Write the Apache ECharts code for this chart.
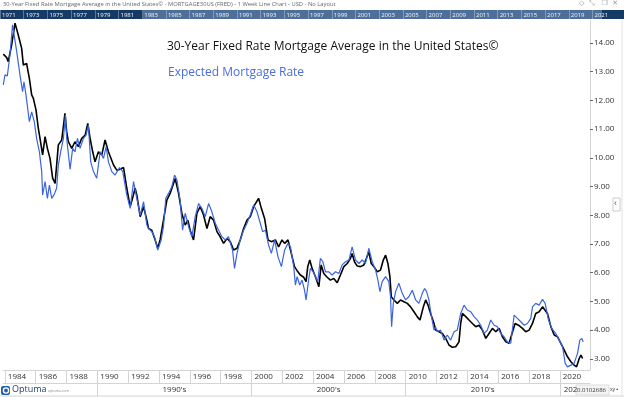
<!DOCTYPE html>
<html>
<head>
<meta charset="utf-8">
<title>30-Year Fixed Rate Mortgage Average in the United States</title>
<script src="https://cdn.jsdelivr.net/npm/echarts@6/dist/echarts.min.js"></script>
<style>
html, body { margin: 0; padding: 0; background: #fff; }
#chart { width: 624px; height: 397px; }
</style>
</head>
<body>
<div id="chart"></div>
<script>
// values, roughly one point per quarter
const blackYears = [1983.9, 1984.12, 1984.22, 1984.44, 1984.66, 1984.87, 1985.09, 1985.2, 1985.41, 1985.59, 1985.74, 1985.85,
    1986.02, 1986.17, 1986.28, 1986.45, 1986.61, 1986.76, 1986.93, 1987.1, 1987.26, 1987.36, 1987.47, 1987.69, 1987.9,
    1988.01, 1988.12, 1988.34, 1988.55, 1988.77, 1988.99, 1989.21, 1989.38, 1989.53, 1989.7, 1989.85,
    1990.07, 1990.29, 1990.5, 1990.72, 1991.05, 1991.26, 1991.48, 1991.7, 1991.91, 1992.13, 1992.24, 1992.45, 1992.56, 1992.78,
    1993.0, 1993.21, 1993.32, 1993.53, 1993.75, 1993.92, 1994.07, 1994.29, 1994.51, 1994.72, 1994.94, 1995.05, 1995.27, 1995.48,
    1995.7, 1995.87, 1996.02, 1996.24, 1996.46, 1996.67, 1996.89, 1997.11, 1997.32, 1997.54, 1997.76, 1997.97, 1998.19, 1998.41,
    1998.62, 1998.84, 1999.06, 1999.27, 1999.49, 1999.71, 1999.92, 2000.14, 2000.46, 2000.64, 2000.85, 2001.07, 2001.29, 2001.55,
    2001.76, 2001.98, 2002.15, 2002.37, 2002.53, 2002.79, 2002.96, 2003.17, 2003.39, 2003.54, 2003.65, 2003.78, 2003.93, 2004.15,
    2004.37, 2004.52, 2004.69, 2004.91, 2005.12, 2005.34, 2005.56, 2005.77, 2005.99, 2006.21, 2006.42, 2006.53, 2006.68, 2006.86,
    2007.07, 2007.29, 2007.46, 2007.61, 2007.77, 2007.94, 2008.16, 2008.37, 2008.55, 2008.7, 2008.85, 2008.98, 2009.07, 2009.24,
    2009.46, 2009.67, 2009.89, 2010.11, 2010.32, 2010.54, 2010.76, 2010.93, 2011.15, 2011.3, 2011.45, 2011.62, 2011.84, 2011.95,
    2012.17, 2012.38, 2012.6, 2012.81, 2013.03, 2013.25, 2013.46, 2013.57, 2013.68, 2013.9, 2014.11, 2014.33, 2014.55, 2014.76,
    2014.98, 2015.2, 2015.41, 2015.63, 2015.85, 2016.06, 2016.28, 2016.5, 2016.71, 2016.82, 2017.1, 2017.32, 2017.58, 2017.79,
    2018.01, 2018.23, 2018.44, 2018.66, 2018.88, 2018.99, 2019.2, 2019.42, 2019.64, 2019.85, 2020.07, 2020.29, 2020.5, 2020.72,
    2020.93, 2021.09, 2021.26, 2021.37, 2021.48];
const blackRates = [13.61, 13.49, 13.35, 13.93, 14.69, 14.28, 13.81, 13.23, 13.29, 12.77, 12.19, 12.07,
    11.67, 11.03, 10.68, 10.1, 10.74, 10.33, 9.98, 9.29, 9.11, 9.11, 10.45, 10.62, 11.55,
    10.91, 10.56, 10.33, 10.56, 10.39, 10.68, 10.79, 11.2, 10.68, 10.21, 9.86,
    10.21, 10.1, 10.62, 10.21, 9.75, 9.57, 9.6, 9.66, 8.94, 8.3, 8.5, 8.94, 8.71, 7.95,
    8.3, 7.83, 7.54, 7.48, 7.14, 6.85, 7.14, 7.83, 8.53, 8.76, 9.11, 9.28, 8.76, 8.07,
    7.66, 7.83, 7.48, 7.14, 8.07, 8.3, 8.01, 7.54, 7.95, 7.83, 7.43, 7.25, 7.02, 7.19,
    7.08, 6.79, 6.85, 7.14, 7.54, 7.83, 7.95, 8.3, 8.59, 8.24, 7.89, 7.14, 7.08, 7.14,
    6.9, 7.14, 7.02, 7.14, 6.79, 6.21, 6.07, 5.92, 5.84, 5.69, 6.21, 6.44, 6.15, 5.86,
    5.51, 6.27, 5.97, 5.84, 5.74, 5.8, 5.65, 5.92, 6.21, 6.32, 6.5, 6.67, 6.38, 6.23,
    6.21, 6.27, 6.5, 6.73, 6.32, 6.21, 6.03, 6.09, 6.44, 6.61, 6.32, 5.86, 5.16, 5.05,
    4.93, 5.05, 4.99, 4.93, 4.81, 4.64, 4.46, 4.35, 4.81, 5.05, 4.87, 4.58, 4.23, 4.0,
    3.94, 3.88, 3.71, 3.48, 3.4, 3.42, 3.59, 4.23, 4.58, 4.47, 4.35, 4.23, 4.12, 4.17,
    4.0, 3.71, 3.88, 4.06, 3.94, 4.06, 3.77, 3.59, 3.54, 3.51, 4.23, 4.17, 4.06, 3.94,
    4.0, 4.23, 4.58, 4.64, 4.81, 4.87, 4.58, 4.12, 3.83, 3.77, 3.54, 3.3, 3.07, 2.9,
    2.78, 2.72, 3.01, 3.13, 3.01];

const blueYears = [1983.9, 1984.01, 1984.16, 1984.33, 1984.5, 1984.59, 1984.77, 1984.98, 1985.15, 1985.24, 1985.37, 1985.59,
    1985.74, 1985.91, 1986.06, 1986.24, 1986.39, 1986.45, 1986.61, 1986.76, 1986.89, 1987.04, 1987.19, 1987.36, 1987.47,
    1987.62, 1987.8, 1987.93, 1988.01, 1988.23, 1988.4, 1988.55, 1988.71, 1988.88, 1989.1, 1989.27, 1989.42, 1989.57,
    1989.75, 1989.96, 1990.18, 1990.4, 1990.57, 1990.72, 1990.94, 1991.15, 1991.44, 1991.65, 1991.91, 1992.13, 1992.35,
    1992.56, 1992.78, 1993.0, 1993.21, 1993.32, 1993.53, 1993.71, 1993.92, 1994.14, 1994.29, 1994.44, 1994.62, 1994.83,
    1995.01, 1995.16, 1995.37, 1995.53, 1995.7, 1995.92, 1996.13, 1996.35, 1996.57, 1996.78, 1997.0, 1997.22, 1997.43,
    1997.65, 1997.87, 1998.08, 1998.3, 1998.51, 1998.77, 1998.9, 1999.06, 1999.27, 1999.49, 1999.71, 1999.92, 2000.14,
    2000.36, 2000.57, 2000.72, 2000.9, 2001.11, 2001.29, 2001.5, 2001.72, 2001.94, 2002.15, 2002.37, 2002.53, 2002.74,
    2002.85, 2002.96, 2003.13, 2003.28, 2003.44, 2003.54, 2003.72, 2003.82, 2004.0, 2004.15, 2004.3, 2004.47, 2004.63,
    2004.8, 2005.02, 2005.23, 2005.45, 2005.67, 2005.88, 2006.1, 2006.32, 2006.53, 2006.75, 2006.97, 2007.18, 2007.4,
    2007.61, 2007.83, 2008.05, 2008.2, 2008.33, 2008.48, 2008.7, 2008.91, 2009.02, 2009.09, 2009.2, 2009.35, 2009.56,
    2009.78, 2010.0, 2010.21, 2010.43, 2010.65, 2010.86, 2011.08, 2011.23, 2011.36, 2011.51, 2011.66, 2011.84, 2011.95,
    2012.06, 2012.27, 2012.49, 2012.7, 2012.92, 2013.14, 2013.35, 2013.57, 2013.79, 2014.0, 2014.22, 2014.44, 2014.65,
    2014.87, 2015.09, 2015.3, 2015.52, 2015.74, 2015.95, 2016.17, 2016.39, 2016.6, 2016.82, 2017.04, 2017.25, 2017.47,
    2017.69, 2017.9, 2018.12, 2018.23, 2018.44, 2018.66, 2018.88, 2019.05, 2019.27, 2019.48, 2019.74, 2019.96, 2020.18,
    2020.35, 2020.5, 2020.72, 2020.93, 2021.15, 2021.3, 2021.43, 2021.52];
const blueRates = [12.54, 12.89, 12.85, 13.58, 14.63, 14.68, 13.7, 12.89, 12.3, 12.65, 12.19, 11.26,
    11.6, 11.26, 10.68, 10.21, 9.52, 8.71, 9.17, 8.59, 9.05, 8.59, 8.71, 8.94, 9.75,
    10.21, 10.68, 11.5, 10.68, 9.6, 10.33, 10.21, 10.68, 10.33, 10.68, 10.79, 11.14, 9.86,
    9.52, 9.29, 10.21, 9.98, 10.39, 9.86, 9.52, 9.4, 9.66, 9.52, 8.71, 8.24, 9.17,
    8.59, 8.0, 8.47, 7.66, 7.54, 7.43, 7.25, 6.79, 7.14, 7.6, 8.59, 8.76, 8.99,
    9.4, 9.23, 8.53, 7.48, 8.07, 7.6, 7.25, 7.95, 8.41, 8.24, 7.95, 8.41, 8.12,
    7.72, 7.48, 7.25, 7.14, 7.25, 6.79, 6.15, 6.67, 7.14, 7.48, 7.72, 8.01, 8.36,
    8.12, 7.72, 7.43, 7.48, 6.96, 6.67, 7.14, 6.55, 6.21, 6.79, 7.02, 6.9, 6.21,
    5.57, 5.86, 5.57, 5.74, 5.39, 5.05, 5.8, 6.15, 6.03, 5.86, 5.69, 6.5, 6.38,
    6.03, 6.03, 5.92, 6.03, 5.97, 6.27, 6.38, 6.44, 6.9, 6.44, 6.32, 6.44, 6.32,
    6.85, 6.38, 6.09, 5.74, 5.34, 5.69, 5.86, 5.69, 5.16, 4.12, 4.93, 5.34, 5.63,
    5.28, 5.05, 5.16, 5.39, 5.05, 4.93, 5.28, 5.45, 5.34, 5.05, 4.52, 4.0, 4.1,
    3.94, 4.0, 3.65, 3.83, 3.65, 3.94, 4.0, 4.58, 4.87, 4.7, 4.64, 4.47, 4.35,
    4.17, 3.88, 4.0, 4.35, 4.17, 4.12, 3.88, 3.77, 3.59, 3.54, 4.52, 4.41, 4.29,
    4.17, 4.23, 4.41, 4.81, 4.93, 4.87, 5.07, 4.93, 4.35, 4.06, 3.88, 3.65, 3.42,
    2.84, 2.72, 2.78, 2.84, 3.19, 3.65, 3.71, 3.59];

const yearTicks = [1984, 1986, 1988, 1990, 1992, 1994, 1996, 1998, 2000, 2002, 2004, 2006, 2008, 2010, 2012, 2014, 2016, 2018, 2020];
const decadeTicks = [1990, 2000, 2010, 2020];
const decadeCenters = [1995, 2005, 2015, 2020.7];
const decadeNames = ["1990's", "2000's", "2010's", '202'];
const rateTicks = [3, 4, 5, 6, 7, 8, 9, 10, 11, 12, 13, 14];
const overviewYears = [1971, 1973, 1975, 1977, 1979, 1981, 1983, 1985, 1987, 1989, 1991, 1993, 1995, 1997,
    1999, 2001, 2003, 2005, 2007, 2009, 2011, 2013, 2015, 2017, 2019, 2021];

const blackName = '30-Year Fixed Rate Mortgage Average in the United States©';
const blueName = 'Expected Mortgage Rate';
const headerText = '30-Year Fixed Rate Mortgage Average in the United States© - MORTGAGE30US (FRED) - 1 Week Line Chart - USD - No Layout';

const font = 'Open Sans';
const gridLine = '#d4d4d4';

let chart = echarts.init(document.getElementById('chart'));

const option = {
    animation: false,
    textStyle: {fontFamily: font},
    grid: [
        {left: 3, right: 34, top: 20, bottom: 27, outerBoundsMode: 'none', containLabel: false},
        {left: 0, right: 0, top: 10, height: 9, outerBoundsMode: 'none', containLabel: false}
    ],
    xAxis: [
        {
            type: 'value', gridIndex: 0, position: 'bottom', min: 1983.88, max: 2021.96,
            axisLine: {show: true, onZero: false, lineStyle: {color: gridLine}},
            axisTick: {show: true, length: 13, customValues: yearTicks, lineStyle: {color: gridLine}},
            axisLabel: {customValues: yearTicks, align: 'left', margin: 3, padding: [0, 0, 0, 3],
                fontSize: 8, color: '#333', formatter: v => String(v)},
            splitLine: {show: false}
        },
        {
            type: 'value', gridIndex: 0, position: 'bottom', offset: 13, min: 1983.88, max: 2021.96,
            axisLine: {show: true, onZero: false, lineStyle: {color: gridLine}},
            axisTick: {show: true, length: 13, customValues: decadeTicks, lineStyle: {color: gridLine}},
            axisLabel: {customValues: decadeCenters, margin: 3, fontSize: 8, color: '#333',
                formatter: v => decadeNames[decadeCenters.indexOf(v)]},
            splitLine: {show: false}
        },
        {
            type: 'value', gridIndex: 1, position: 'bottom', min: 1971, max: 2023.66, z: 10,
            axisLine: {show: false},
            axisTick: {show: true, inside: true, length: 9, customValues: overviewYears,
                lineStyle: {color: 'rgba(255,255,255,0.3)'}},
            axisLabel: {customValues: overviewYears, inside: true, align: 'left', margin: 1,
                padding: [0, 0, 0, 2], fontSize: 6, color: '#f2f5f9', formatter: v => String(v)},
            splitLine: {show: false}
        }
    ],
    yAxis: [
        {
            type: 'value', gridIndex: 0, position: 'right', min: 2.61, max: 14.8,
            axisLine: {show: true, lineStyle: {color: gridLine}},
            axisTick: {show: true, length: 3, customValues: rateTicks, lineStyle: {color: '#666'}},
            axisLabel: {customValues: rateTicks, margin: 4, fontSize: 8, color: '#333',
                formatter: v => v.toFixed(2)},
            splitLine: {show: false}
        },
        {type: 'value', gridIndex: 1, min: 0, max: 1, show: false}
    ],
    series: [
        {
            name: blackName, type: 'line', xAxisIndex: 0, yAxisIndex: 0, showSymbol: false,
            data: blackYears.map((y, i) => [y, blackRates[i]]),
            lineStyle: {color: '#000', width: 1.6}, itemStyle: {color: '#000'}
        },
        {
            name: blueName, type: 'line', xAxisIndex: 0, yAxisIndex: 0, showSymbol: false,
            data: blueYears.map((y, i) => [y, blueRates[i]]),
            lineStyle: {color: '#3b65dc', width: 1.2}, itemStyle: {color: '#3b65dc'}
        }
    ],
    graphic: [
        // overview strip behind the top year scale
        {type: 'rect', z: 0, shape: {x: 0, y: 10, width: 624, height: 9}, style: {fill: '#163a66'}},
        {type: 'rect', z: 0, shape: {x: 143, y: 10, width: 459, height: 9}, style: {fill: '#4d6f99'}},
        {type: 'text', left: 3, top: 1, style: {text: headerText, fontSize: 5.8, fill: '#666', fontFamily: font}},
        {type: 'text', right: 6, top: 0, style: {text: '◇  ⤡   ❐  ✕', fontSize: 7, fill: '#999', fontFamily: 'DejaVu Sans'}},
        {type: 'text', left: 167, top: 41, style: {text: blackName, fontSize: 12, fill: '#111', fontFamily: font}},
        {type: 'text', left: 168, top: 67, style: {text: blueName, fontSize: 12, fill: '#4a6ee0', fontFamily: font}},
        {type: 'line', shape: {x1: 0, y1: 396, x2: 624, y2: 396}, style: {stroke: gridLine, lineWidth: 1}},
        {type: 'line', shape: {x1: 622, y1: 20, x2: 622, y2: 396}, style: {stroke: '#e2e2e2', lineWidth: 1}},
        {type: 'rect', shape: {x: 613, y: 198, width: 7, height: 13}, style: {fill: '#fff', stroke: '#ccc'}},
        {type: 'text', left: 614, top: 199, style: {text: '‹', fontSize: 9, fill: '#555'}},
        // logo bottom left
        {type: 'rect', shape: {x: 1, y: 386, width: 9, height: 9, r: 2}, style: {fill: '#1f5fa8'}},
        {type: 'circle', shape: {cx: 6, cy: 390.5, r: 2.6}, style: {fill: 'none', stroke: '#fff', lineWidth: 1.4}},
        {type: 'text', left: 12, top: 385, style: {text: 'Optuma', fontSize: 9, fill: '#1c3f6e', fontFamily: font}},
        {type: 'text', left: 48, top: 389, style: {text: 'optuma.com', fontSize: 3.5, fill: '#888', fontFamily: font}},
        // scale box bottom right
        {type: 'rect', shape: {x: 576, y: 385, width: 33, height: 10}, style: {fill: '#f4f4f4', stroke: '#ddd'}},
        {type: 'text', left: 577, top: 387, style: {text: '0.0102686', fontSize: 6, fill: '#333', fontFamily: font}},
        {type: 'text', left: 610, top: 387, style: {text: 'xy ▪', fontSize: 5, fill: '#333', fontFamily: font}}
    ]
};

chart.setOption(option);
window.addEventListener('resize', function () {
    chart.resize();
});
</script>
</body>
</html>
